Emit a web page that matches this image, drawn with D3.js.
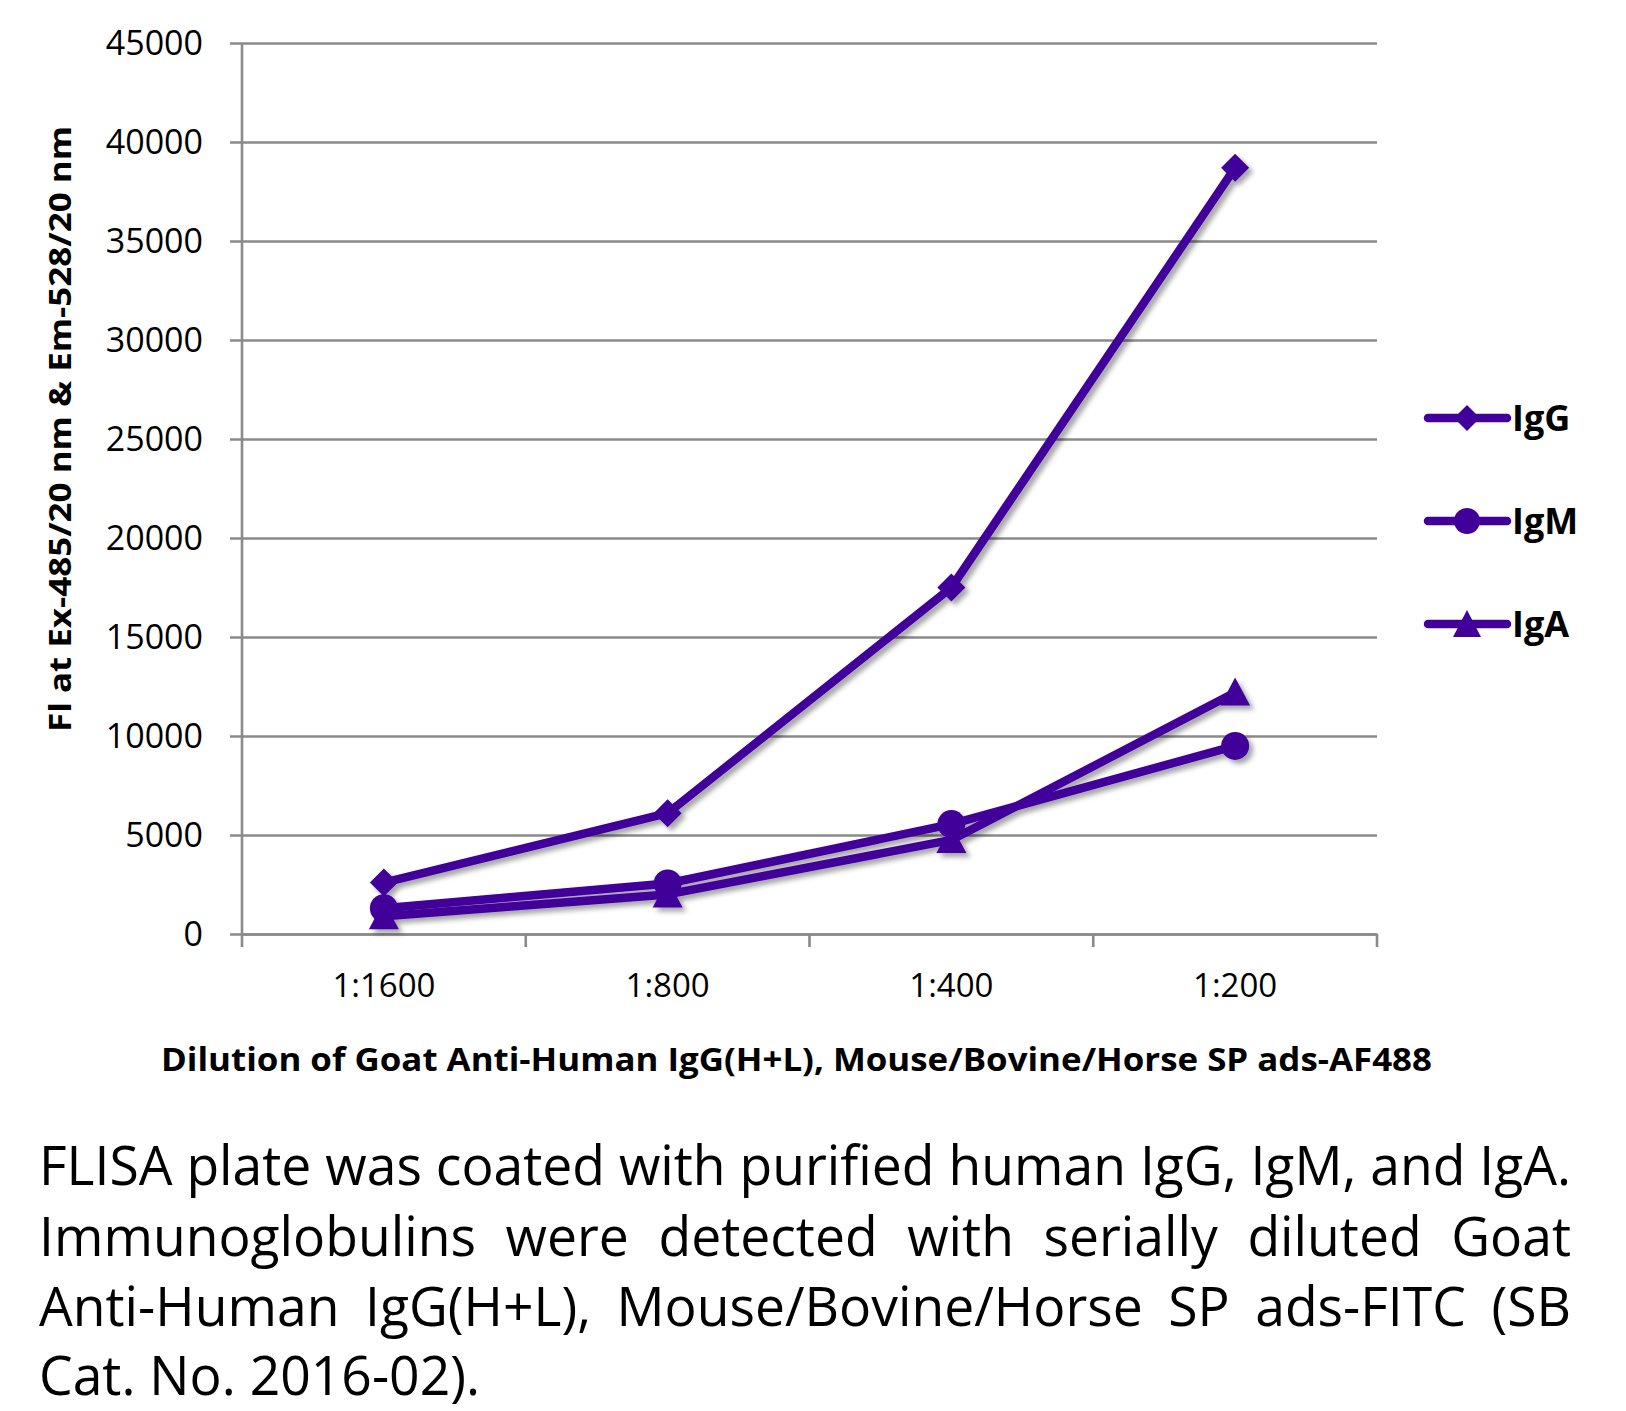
<!DOCTYPE html>
<html><head><meta charset="utf-8">
<script src="https://cdn.jsdelivr.net/npm/d3@7"></script>
<style>body{margin:0;background:#fff}</style>
</head><body>
<svg id="c" width="1626" height="1411"></svg>
<script>
// ---- data ----
const categories = ["1:1600", "1:800", "1:400", "1:200"];
const seriesNames = ["IgG", "IgM", "IgA"];
const igG = [2600, 6100, 17500, 38700];
const igM = [1300, 2550, 5550, 9500];
const igA = [900, 2000, 4750, 12200];
const yTicks = [0, 5000, 10000, 15000, 20000, 25000, 30000, 35000, 40000, 45000];
const yTitle = "Fl at Ex-485/20 nm & Em-528/20 nm";
const xTitle = "Dilution of Goat Anti-Human IgG(H+L), Mouse/Bovine/Horse SP ads-AF488";
const captionLines = [
  "FLISA plate was coated with purified human IgG, IgM, and IgA.",
  "Immunoglobulins were detected with serially diluted Goat",
  "Anti-Human IgG(H+L), Mouse/Bovine/Horse SP ads-FITC (SB",
  "Cat. No. 2016-02)."
];

// ---- layout ----
const color = "#42009a";
const grid = "#8a8a8a";
const font = "'Open Sans', 'Noto Sans', sans-serif";
const L = 242, R = 1377, T = 43, B = 934;

const svg = d3.select("#c");
const defs = svg.append("defs");
const flt = defs.append("filter").attr("id", "shadow")
  .attr("x", "-20%").attr("y", "-20%").attr("width", "150%").attr("height", "150%");
flt.append("feDropShadow").attr("dx", 4).attr("dy", 4).attr("stdDeviation", 2.5)
  .attr("flood-color", "#000").attr("flood-opacity", 0.35);

const x = d3.scaleBand().domain(categories).range([L, R]).padding(0);
const y = d3.scaleLinear().domain([0, 45000]).range([B, T]);

// gridlines + y labels
const yAxis = d3.axisLeft(y).tickValues(yTicks).tickSize(-(R - L)).tickPadding(39).tickFormat(d3.format("d"));
const gy = svg.append("g").attr("transform", `translate(${L},0)`).call(yAxis);
gy.select(".domain").remove();
gy.selectAll(".tick line").attr("stroke", grid).attr("stroke-width", 2.6).attr("x1", -12);
gy.selectAll(".tick text").attr("font-family", font).attr("font-size", 34).attr("fill", "#000")
  .attr("dy", "0.34em");
// y axis line
svg.append("line").attr("x1", L).attr("x2", L).attr("y1", y(45000)).attr("y2", B)
  .attr("stroke", grid).attr("stroke-width", 2.6);

// x axis
const xAxis = d3.axisBottom(x).tickSize(0).tickPadding(40);
const gx = svg.append("g").attr("transform", `translate(0,${B})`).call(xAxis);
gx.select(".domain").attr("stroke", grid).attr("stroke-width", 2.6);
gx.selectAll(".tick text").attr("font-family", font).attr("font-size", 33).attr("fill", "#000");
// boundary ticks
const bounds = categories.map(c => x(c)).concat([x(categories[categories.length - 1]) + x.bandwidth()]);
svg.append("g").selectAll("line").data(bounds).join("line")
  .attr("x1", d => d).attr("x2", d => d).attr("y1", B).attr("y2", B + 13)
  .attr("stroke", grid).attr("stroke-width", 2.6);

// axis titles
svg.append("text").attr("transform", `translate(59,429) rotate(-90)`)
  .attr("text-anchor", "middle").attr("dominant-baseline", "central")
  .attr("font-family", font).attr("font-weight", 700).attr("font-size", 31)
  .attr("textLength", 606).attr("lengthAdjust", "spacingAndGlyphs").text(yTitle);
svg.append("text").attr("x", (161 + 1432) / 2).attr("y", 1071)
  .attr("text-anchor", "middle")
  .attr("font-family", font).attr("font-weight", 700).attr("font-size", 32)
  .attr("textLength", 1271).attr("lengthAdjust", "spacingAndGlyphs").text(xTitle);

// marker shapes
const shapes = [
  g => g.append("path").attr("d", "M0,-14L14,0L0,14L-14,0Z"),
  g => g.append("circle").attr("r", 14),
  g => g.append("path").attr("d", "M0,-15L15,13L-15,13Z")
];
const series = [igG, igM, igA];
const line = d3.line().x((d, i) => x(categories[i]) + x.bandwidth() / 2).y(d => y(d));

const plot = svg.append("g").attr("filter", "url(#shadow)");
series.forEach((vals, si) => {
  const g = plot.append("g");
  g.append("path").attr("d", line(vals)).attr("fill", "none").attr("stroke", color)
    .attr("stroke-width", 8.5).attr("stroke-linejoin", "round");
  vals.forEach((v, i) => {
    const m = g.append("g").attr("transform", `translate(${x(categories[i]) + x.bandwidth() / 2},${y(v)})`)
      .attr("fill", color);
    shapes[si](m);
  });
});

// legend
const legY = [418, 521, 624];
seriesNames.forEach((name, si) => {
  const g = svg.append("g").attr("transform", `translate(0,${legY[si]})`);
  g.append("line").attr("x1", 1428).attr("x2", 1507).attr("stroke", color)
    .attr("stroke-width", 8.5).attr("stroke-linecap", "round");
  const m = g.append("g").attr("transform", "translate(1467,0)").attr("fill", color);
  if (si === 0) m.append("path").attr("d", "M0,-13L13,0L0,13L-13,0Z");
  if (si === 1) m.append("circle").attr("r", 13);
  if (si === 2) m.append("path").attr("d", "M0,-14L14,13L-14,13Z");
  g.append("text").attr("x", 1512).attr("y", 13).attr("font-family", font)
    .attr("font-weight", 700).attr("font-size", 36).attr("fill", "#000").text(name);
});

// caption (justified)
const capL = 39, capR = 1571, capFS = 54;
const baselines = [1185, 1256, 1326, 1395];
const cap = svg.append("g");
const meas = svg.append("text").attr("font-family", font).attr("font-size", capFS);
const wlen = w => { meas.text(w); return meas.node().getComputedTextLength(); };
const spaceW = wlen("a b") - wlen("ab");
const sx = (capR - capL) / wlen(captionLines[0]);
const W = (capR - capL) / sx;
const capG = cap.append("g").attr("transform", `translate(${capL},0) scale(${sx},1)`);
captionLines.forEach((ln, li) => {
  const words = ln.split(" ");
  const widths = words.map(wlen);
  const total = d3.sum(widths);
  const natural = li === captionLines.length - 1 || li === 0;
  const gap = natural ? spaceW : (W - total) / (words.length - 1);
  let cx = 0;
  words.forEach((w, wi) => {
    capG.append("text").attr("x", cx).attr("y", baselines[li]).attr("font-family", font)
      .attr("font-size", capFS).attr("fill", "#000").text(w);
    cx += widths[wi] + gap;
  });
});
meas.remove();
</script>
</body></html>
